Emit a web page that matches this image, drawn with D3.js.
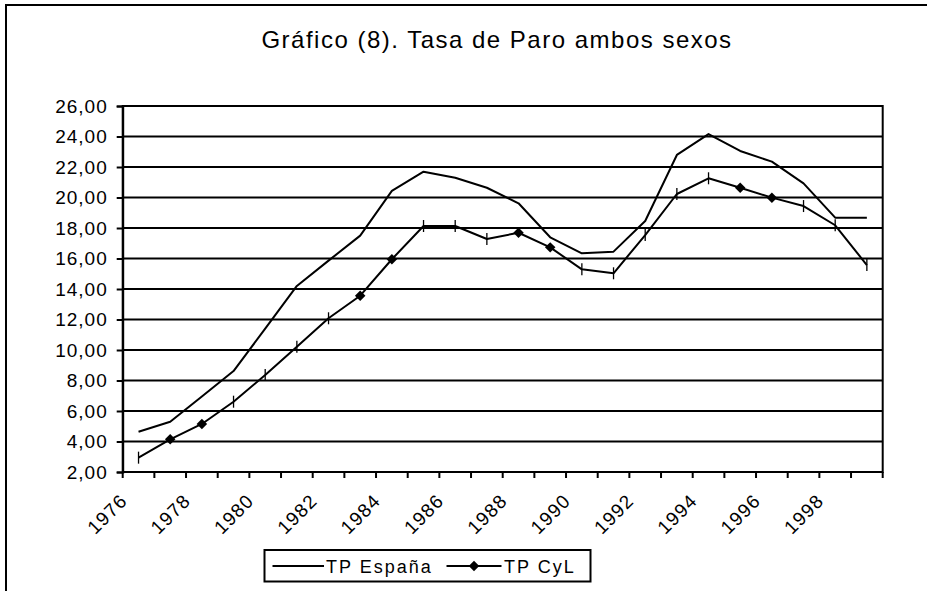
<!DOCTYPE html>
<html>
<head>
<meta charset="utf-8">
<script src="https://cdn.jsdelivr.net/npm/d3@7"></script>
<style>
  body { margin: 0; background: #fff; }
  svg { display: block; font-family: Arial, "Liberation Sans", sans-serif; }
</style>
</head>
<body>
<div id="chart"></div>
<script>
const years = d3.range(1976, 2000);
const yTicks = [2, 4, 6, 8, 10, 12, 14, 16, 18, 20, 22, 24, 26];
const yearLabels = [1976, 1978, 1980, 1982, 1984, 1986, 1988, 1990, 1992, 1994, 1996, 1998];

const tpEspana = [4.64, 5.30, 6.95, 8.62, 11.40, 14.20, 15.86, 17.50, 20.43, 21.69,
  21.30, 20.64, 19.62, 17.39, 16.34, 16.45, 18.46, 22.79, 24.16, 23.05,
  22.35, 20.93, 18.68, 18.68];
const tpCyl = [2.94, 4.14, 5.15, 6.61, 8.36, 10.22, 12.08, 13.56, 15.95, 18.13,
  18.13, 17.28, 17.69, 16.73, 15.29, 15.03, 17.54, 20.23, 21.26, 20.64,
  19.99, 19.44, 18.18, 15.57];
// which CyL points show the diamond marker (the rest show a small bar)
const cylDiamond = [1977, 1978, 1983, 1984, 1988, 1989, 1995, 1996];

const width = 927, height = 591;
const plot = { left: 122.7, right: 882.7, top: 106, bottom: 472 };

const svg = d3.select("#chart").append("svg")
  .attr("width", width)
  .attr("height", height);

// outer frame (right and bottom run off the picture)
svg.append("rect")
  .attr("x", 6).attr("y", 5)
  .attr("width", 940).attr("height", 610)
  .attr("fill", "none")
  .attr("stroke", "#000")
  .attr("stroke-width", 2);

svg.append("text")
  .attr("x", 497)
  .attr("y", 48)
  .attr("text-anchor", "middle")
  .style("font-size", "24px")
  .style("letter-spacing", "1.5px")
  .text("Gráfico (8). Tasa de Paro ambos sexos");

const x = d3.scaleBand()
  .domain(years)
  .range([plot.left, plot.right]);
const cx = d => x(d) + x.bandwidth() / 2;

const y = d3.scaleLinear()
  .domain([2, 26])
  .range([plot.bottom, plot.top]);

// gridlines
svg.append("g")
  .selectAll("line")
  .data(yTicks)
  .join("line")
    .attr("x1", plot.left).attr("x2", plot.right)
    .attr("y1", d => y(d)).attr("y2", d => y(d))
    .attr("stroke", "#000")
    .attr("stroke-width", 2);

// plot border
svg.append("rect")
  .attr("x", plot.left).attr("y", plot.top)
  .attr("width", plot.right - plot.left)
  .attr("height", plot.bottom - plot.top)
  .attr("fill", "none")
  .attr("stroke", "#000")
  .attr("stroke-width", 2);

// y axis
const yAxis = d3.axisLeft(y)
  .tickValues(yTicks)
  .tickSize(6)
  .tickPadding(9)
  .tickFormat(d => d.toFixed(2).replace(".", ","));
const gy = svg.append("g")
  .attr("transform", `translate(${plot.left},0)`)
  .call(yAxis);
gy.select(".domain").attr("stroke-width", 2);
gy.selectAll(".tick line").attr("stroke-width", 2);
gy.selectAll(".tick text")
  .attr("fill", "#000")
  .style("font-size", "19px")
  .style("letter-spacing", "1px")
  .style("font-family", "Arial, 'Liberation Sans', sans-serif");

// x axis ticks at category boundaries
const bounds = years.map(d => x(d)).concat([plot.right]);
svg.append("g")
  .selectAll("line")
  .data(bounds)
  .join("line")
    .attr("x1", d => d).attr("x2", d => d)
    .attr("y1", plot.bottom).attr("y2", plot.bottom + 6)
    .attr("stroke", "#000")
    .attr("stroke-width", 2);

svg.append("g")
  .selectAll("text")
  .data(yearLabels)
  .join("text")
    .attr("transform", d => `translate(${cx(d) - 10},${plot.bottom + 30}) rotate(-45)`)
    .attr("text-anchor", "end")
    .style("font-size", "19px")
    .style("letter-spacing", "1.2px")
    .text(d => d);

// lines
const line = d3.line()
  .x((d, i) => cx(years[i]))
  .y(d => y(d));

svg.append("path")
  .datum(tpEspana)
  .attr("d", line)
  .attr("fill", "none")
  .attr("stroke", "#000")
  .attr("stroke-width", 2)
  .attr("stroke-linejoin", "round");

svg.append("path")
  .datum(tpCyl)
  .attr("d", line)
  .attr("fill", "none")
  .attr("stroke", "#000")
  .attr("stroke-width", 2)
  .attr("stroke-linejoin", "round");

const diamond = d3.symbol().type(d3.symbolDiamond2).size(70);
const cylPts = years.map((yr, i) => ({ yr, v: tpCyl[i] }));

svg.append("g")
  .selectAll("path")
  .data(cylPts.filter(d => cylDiamond.includes(d.yr)))
  .join("path")
    .attr("d", diamond)
    .attr("transform", d => `translate(${cx(d.yr)},${y(d.v)})`)
    .attr("fill", "#000");

svg.append("g")
  .selectAll("line")
  .data(cylPts.filter(d => !cylDiamond.includes(d.yr)))
  .join("line")
    .attr("x1", d => cx(d.yr)).attr("x2", d => cx(d.yr))
    .attr("y1", d => y(d.v) - 6).attr("y2", d => y(d.v) + 6)
    .attr("stroke", "#000")
    .attr("stroke-width", 1.3);

// legend
const lg = svg.append("g");
lg.append("rect")
  .attr("x", 264.5).attr("y", 550)
  .attr("width", 326).attr("height", 31.5)
  .attr("fill", "#fff")
  .attr("stroke", "#000")
  .attr("stroke-width", 2);
lg.append("line")
  .attr("x1", 272.5).attr("x2", 324).attr("y1", 566).attr("y2", 566)
  .attr("stroke", "#000").attr("stroke-width", 2);
lg.append("text")
  .attr("x", 326).attr("y", 573)
  .style("font-size", "18px")
  .style("letter-spacing", "2px")
  .text("TP España");
lg.append("line")
  .attr("x1", 446.5).attr("x2", 501.5).attr("y1", 566).attr("y2", 566)
  .attr("stroke", "#000").attr("stroke-width", 2);
lg.append("path")
  .attr("d", diamond)
  .attr("transform", "translate(474,566)")
  .attr("fill", "#000");
lg.append("text")
  .attr("x", 504).attr("y", 573)
  .style("font-size", "18px")
  .style("letter-spacing", "2px")
  .text("TP CyL");
</script>
</body>
</html>
